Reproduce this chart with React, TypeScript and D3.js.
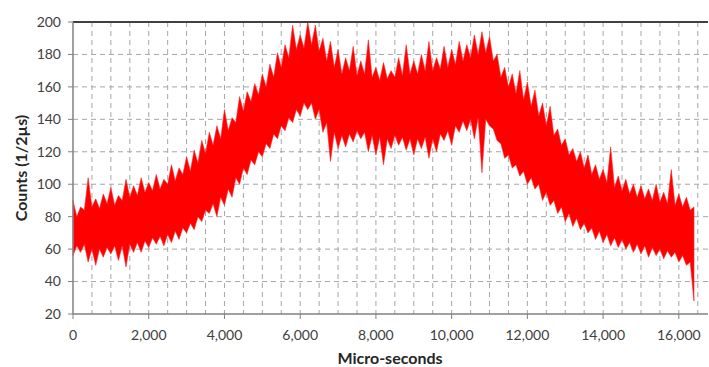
import * as d3 from "d3";

// one value every 100 µs (upper / lower edge of the noise band)
const STEP_US = 100;

const countsHigh = [
  90, 80, 86, 84, 104, 86, 91, 85, 94, 88,
  98, 87, 93, 90, 103, 92, 99, 93, 104, 95,
  101, 96, 106, 97, 103, 100, 112, 102, 110, 106,
  117, 108, 121, 113, 127, 119, 132, 124, 136, 128,
  146, 133, 141, 138, 154, 145, 157, 151, 162, 155,
  168, 160, 174, 166, 181, 172, 186, 178, 198, 183,
  192, 184, 200, 186, 198, 182, 190, 176, 188, 172,
  183, 168, 178, 170, 185, 167, 176, 168, 189, 166,
  172, 164, 175, 165, 170, 166, 178, 167, 186, 168,
  176, 168, 180, 170, 188, 170, 178, 171, 185, 172,
  183, 174, 188, 176, 186, 178, 192, 180, 194, 181,
  191, 176, 180, 166, 172, 160, 168, 156, 170, 152,
  163, 148, 158, 142, 150, 136, 148, 130, 134, 124,
  128, 118, 122, 114, 120, 110, 118, 106, 112, 103,
  109, 101, 123, 98, 105, 96, 103, 94, 100, 92,
  99, 91, 97, 90, 100, 89, 95, 88, 109, 87,
  94, 86, 92, 84, 86,
];

const countsLow = [
  56, 62, 58, 63, 52, 60, 50, 60, 55, 61,
  57, 62, 53, 62, 49, 63, 58, 64, 58, 65,
  61, 67, 63, 68, 62, 69, 64, 71, 66, 73,
  70, 76, 72, 80, 77, 84, 82, 88, 80, 92,
  87, 97, 92, 104, 100, 110, 106, 115, 112, 120,
  117, 125, 122, 131, 128, 136, 133, 141, 138, 146,
  142, 150, 146, 150, 140, 146, 132, 138, 114, 132,
  122, 130, 123, 131, 126, 133, 128, 132, 120, 130,
  118, 129, 112, 128, 122, 130, 124, 129, 121, 128,
  118, 128, 122, 129, 116, 128, 120, 131, 127, 133,
  124, 136, 132, 139, 133, 140, 128, 141, 107, 140,
  136, 134, 127, 125, 116, 118, 110, 112, 105, 108,
  100, 104, 97, 100, 90, 95, 87, 90, 82, 86,
  77, 82, 74, 79, 72, 76, 70, 73, 66, 71,
  64, 69, 62, 67, 61, 66, 60, 64, 58, 63,
  57, 62, 55, 61, 56, 60, 54, 59, 55, 58,
  52, 56, 50, 52, 28,
];

const yTicks = [20, 40, 60, 80, 100, 120, 140, 160, 180, 200];
const xTicks = [0, 2000, 4000, 6000, 8000, 10000, 12000, 14000, 16000];
const xGrid = d3.range(500, 16600, 500);

const W = 709;
const H = 367;
const FONT = "Lato, 'Open Sans', sans-serif";

export default function App() {
  const x = d3.scaleLinear().domain([0, 16770]).range([73, 708]);
  const y = d3.scaleLinear().domain([20, 200]).range([314, 22]);

  const pts = countsHigh.map((hi, i) => ({ t: i * STEP_US, hi, lo: countsLow[i] }));

  const band = d3
    .area<{ t: number; hi: number; lo: number }>()
    .x((d) => x(d.t))
    .y0((d) => y(d.lo))
    .y1((d) => y(d.hi))(pts);

  const fmt = d3.format(",");

  return (
    <svg
      width={W}
      height={H}
      style={{ position: "absolute", left: 0, top: 0, background: "#fff" }}
      fontFamily={FONT}
    >
      {/* grid */}
      <g stroke="#a6a6a6" strokeWidth={1} strokeDasharray="5,4">
        {yTicks.slice(1, -1).map((v) => (
          <line key={"h" + v} x1={x(0)} x2={708} y1={y(v)} y2={y(v)} />
        ))}
        {xGrid.map((v) => (
          <line key={"v" + v} x1={x(v)} x2={x(v)} y1={y(200)} y2={y(20)} />
        ))}
      </g>

      {/* data */}
      <path d={band ?? ""} fill="#ff0000" stroke="#ff2020" strokeWidth={0.6} />

      {/* axes */}
      <line x1={x(0)} x2={708} y1={y(200)} y2={y(200)} stroke="#404040" strokeWidth={2} />
      <line x1={x(0)} x2={708} y1={y(20)} y2={y(20)} stroke="#808080" strokeWidth={1.5} />
      <line x1={x(0)} x2={x(0)} y1={y(200)} y2={y(20)} stroke="#808080" strokeWidth={1.5} />

      <g fontSize={14} fill="#404040">
        {yTicks.map((v) => (
          <g key={"yt" + v}>
            <line x1={x(0) - 5} x2={x(0)} y1={y(v)} y2={y(v)} stroke="#808080" />
            <text x={61} y={y(v)} dy="0.35em" textAnchor="end">
              {v}
            </text>
          </g>
        ))}
        {xTicks.map((v) => (
          <g key={"xt" + v}>
            <line x1={x(v)} x2={x(v)} y1={y(20)} y2={y(20) + 5} stroke="#808080" />
            <text x={x(v)} y={340} textAnchor="middle">
              {fmt(v)}
            </text>
          </g>
        ))}
      </g>

      <text x={390} y={364} textAnchor="middle" fontSize={16} fontWeight="bold" fill="#262626">
        Micro-seconds
      </text>
      <text
        transform={`translate(27,${(y(20) + y(200)) / 2}) rotate(-90)`}
        textAnchor="middle"
        fontSize={16}
        fontWeight="bold"
        fill="#262626"
      >
        Counts (1/2µs)
      </text>
    </svg>
  );
}
